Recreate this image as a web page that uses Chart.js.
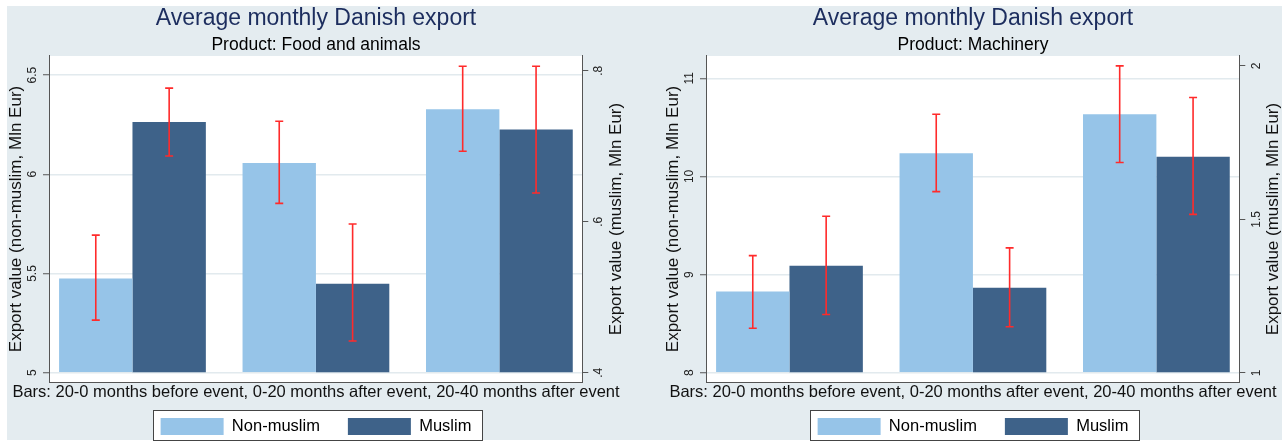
<!DOCTYPE html>
<html>
<head>
<meta charset="utf-8">
<script src="https://cdn.jsdelivr.net/npm/chart.js@4.4.1/dist/chart.umd.min.js"></script>
<style>
  html, body { margin: 0; padding: 0; background: #fff; overflow: hidden; }
  #bg { position: absolute; left: 7px; top: 6px; width: 1275px; height: 434px; background: #e4ecf0; }
  canvas { position: absolute; top: 0; }
  #food { left: 0; }
  #mach { left: 660px; }
</style>
</head>
<body>
<div id="bg"></div>
<canvas id="food" width="632" height="445"></canvas>
<canvas id="mach" width="626" height="445"></canvas>
<script>
// periods shown as the three bar groups
const periods = ['20-0 months before event', '0-20 months after event', '20-40 months after event'];
const noteText = 'Bars: 20-0 months before event, 0-20 months after event, 20-40 months after event';

// Food and animals
const foodNonMuslim     = [5.475, 6.057, 6.328];
const foodNonMuslimLow  = [5.265, 5.853, 6.116];
const foodNonMuslimHigh = [5.693, 6.267, 6.544];
const foodMuslim        = [0.732, 0.518, 0.722];
const foodMuslimLow     = [0.687, 0.442, 0.638];
const foodMuslimHigh    = [0.777, 0.597, 0.806];
const foodLeftTicks       = [5, 5.5, 6, 6.5];
const foodLeftTickLabels  = ['5', '5.5', '6', '6.5'];
const foodRightTicks      = [0.4, 0.6, 0.8];
const foodRightTickLabels = ['.4', '.6', '.8'];

// Machinery
const machNonMuslim     = [8.826, 10.236, 10.634];
const machNonMuslimLow  = [8.452, 9.845, 10.141];
const machNonMuslimHigh = [9.193, 10.634, 11.126];
const machMuslim        = [1.349, 1.277, 1.704];
const machMuslimLow     = [1.190, 1.150, 1.516];
const machMuslimHigh    = [1.510, 1.407, 1.897];
const machLeftTicks       = [8, 9, 10, 11];
const machLeftTickLabels  = ['8', '9', '10', '11'];
const machRightTicks      = [1, 1.5, 2];
const machRightTickLabels = ['1', '1.5', '2'];

const FONT = "'Liberation Sans', Arial, Helvetica, sans-serif";
const lightBlue = '#96c4e8';
const darkBlue = '#3e6289';
const errRed = '#ff2b2b';
const gridColor = '#e2eaee';
const axisColor = '#555';

// white plot region, legend frame, error bars and the right axis title
const stataLook = {
  id: 'stataLook',
  beforeDraw(chart) {
    const { ctx, chartArea: a } = chart;
    ctx.save();
    ctx.fillStyle = '#fff';
    ctx.fillRect(a.left, a.top, a.right - a.left, a.bottom - a.top);
    const hb = chart.legend.legendHitBoxes;
    if (hb && hb.length) {
      const first = hb[0], last = hb[hb.length - 1];
      const x0 = Math.round(first.left - 8) + 0.5;
      const x1 = Math.round(last.left + last.width + 11) + 0.5;
      const y0 = Math.round(first.top - 8) + 0.5;
      const y1 = Math.round(first.top + first.height + 5) + 0.5;
      ctx.fillRect(x0, y0, x1 - x0, y1 - y0);
      ctx.strokeStyle = '#444';
      ctx.lineWidth = 1;
      ctx.strokeRect(x0, y0, x1 - x0, y1 - y0);
    }
    ctx.restore();
  },
  afterDatasetsDraw(chart) {
    const ctx = chart.ctx;
    ctx.save();
    ctx.strokeStyle = errRed;
    ctx.lineWidth = 1.6;
    chart.data.datasets.forEach((ds, i) => {
      const meta = chart.getDatasetMeta(i);
      const ys = chart.scales[meta.yAxisID];
      meta.data.forEach((bar, j) => {
        const lo = ys.getPixelForValue(ds.errLow[j]);
        const hi = ys.getPixelForValue(ds.errHigh[j]);
        ctx.beginPath();
        ctx.moveTo(bar.x, lo); ctx.lineTo(bar.x, hi);
        ctx.moveTo(bar.x - 4, lo); ctx.lineTo(bar.x + 4, lo);
        ctx.moveTo(bar.x - 4, hi); ctx.lineTo(bar.x + 4, hi);
        ctx.stroke();
      });
    });
    ctx.restore();
  },
  afterDraw(chart) {
    // Stata writes the right axis title bottom-to-top as well
    const s = chart.scales.y1;
    const ctx = chart.ctx;
    ctx.save();
    ctx.translate(s.left + chart.options.rightTitleOffset, (s.top + s.bottom) / 2);
    ctx.rotate(-Math.PI / 2);
    ctx.font = '17px ' + FONT;
    ctx.fillStyle = '#111';
    ctx.textAlign = 'center';
    ctx.textBaseline = 'middle';
    ctx.fillText(s.options.title.text, 0, 0);
    ctx.restore();
  }
};

function tickFont() { return { family: FONT, size: 12 }; }

function buildPanel(id, p) {
  return new Chart(document.getElementById(id), {
    type: 'bar',
    data: {
      datasets: [
        {
          label: 'Non-muslim',
          data: p.nonMuslim.map((v, i) => ({ x: i, y: v })),
          errLow: p.nonMuslimLow,
          errHigh: p.nonMuslimHigh,
          yAxisID: 'y',
          base: p.leftTicks[0],
          backgroundColor: lightBlue
        },
        {
          label: 'Muslim',
          data: p.muslim.map((v, i) => ({ x: i, y: v })),
          errLow: p.muslimLow,
          errHigh: p.muslimHigh,
          yAxisID: 'y1',
          base: p.rightTicks[0],
          backgroundColor: darkBlue
        }
      ]
    },
    plugins: [stataLook],
    options: {
      responsive: false,
      animation: false,
      devicePixelRatio: 1,
      rightTitleOffset: 33.7,
      layout: { padding: 0 },
      datasets: { bar: { categoryPercentage: 0.8, barPercentage: 1.0 } },
      scales: {
        x: {
          type: 'linear',
          min: -0.455,
          max: 2.452,
          offset: false,
          bounds: 'data',
          afterBuildTicks: s => { s.ticks = periods.map((_, i) => ({ value: i })); },
          afterFit: s => { s.height = 0; },
          ticks: { display: false },
          grid: { display: false, drawTicks: false, offset: false },
          border: { display: true, color: axisColor, width: 1 }
        },
        y: {
          position: 'left',
          min: p.leftMin,
          max: p.leftMax,
          bounds: 'data',
          afterBuildTicks: s => { s.ticks = p.leftTicks.map(v => ({ value: v })); },
          afterFit: s => { s.width = p.leftWidth; },
          ticks: {
            minRotation: 90, maxRotation: 90, crossAlign: 'center',
            padding: p.leftTickPad, font: tickFont(), color: '#222',
            callback: (v, i) => p.leftTickLabels[i]
          },
          grid: { color: gridColor, lineWidth: 1.5, tickColor: axisColor, tickWidth: 1, tickLength: 6 },
          border: { color: axisColor, width: 1 },
          title: {
            display: true, text: 'Export value (non-muslim, Mln Eur)', color: '#111',
            font: { family: FONT, size: 17 }, padding: { top: p.leftTitlePad, bottom: 0 }
          }
        },
        y1: {
          position: 'right',
          min: p.rightMin,
          max: p.rightMax,
          bounds: 'data',
          afterBuildTicks: s => { s.ticks = p.rightTicks.map(v => ({ value: v })); },
          afterFit: s => { s.width = p.rightWidth; },
          ticks: {
            minRotation: 90, maxRotation: 90, crossAlign: 'center',
            padding: p.rightTickPad, font: tickFont(), color: '#222',
            callback: (v, i) => p.rightTickLabels[i]
          },
          grid: { drawOnChartArea: false, tickColor: axisColor, tickWidth: 1, tickLength: 6 },
          border: { color: axisColor, width: 1 },
          title: { display: false, text: 'Export value (muslim, Mln Eur)' }
        }
      },
      plugins: {
        tooltip: { enabled: false },
        title: {
          display: true, text: 'Average monthly Danish export', color: '#1c2d5e',
          font: { family: FONT, size: 23, weight: 'normal' }, padding: { top: 5, bottom: 0 }
        },
        subtitle: {
          display: true, text: p.product, color: '#000',
          font: { family: FONT, size: 17.5 }, padding: { top: 2, bottom: 0.4 }
        },
        legend: {
          position: 'bottom',
          align: 'center',
          title: {
            display: true, text: noteText, color: '#111', position: 'center',
            font: { family: FONT, size: 16.5 }, padding: { top: 2.25, bottom: -14.05 }
          },
          labels: {
            boxWidth: 63, boxHeight: 17, padding: 28, color: '#000',
            font: { family: FONT, size: 16.5 }
          }
        }
      }
    }
  });
}

buildPanel('food', {
  product: 'Product: Food and animals',
  nonMuslim: foodNonMuslim, nonMuslimLow: foodNonMuslimLow, nonMuslimHigh: foodNonMuslimHigh,
  muslim: foodMuslim, muslimLow: foodMuslimLow, muslimHigh: foodMuslimHigh,
  leftTicks: foodLeftTicks, leftTickLabels: foodLeftTickLabels,
  rightTicks: foodRightTicks, rightTickLabels: foodRightTickLabels,
  leftMin: 4.953, leftMax: 6.596, rightMin: 0.3877, rightMax: 0.8195,
  leftWidth: 49, rightWidth: 49.7, leftTickPad: 1.5, rightTickPad: 5.7, leftTitlePad: 5.8
});

buildPanel('mach', {
  product: 'Product: Machinery',
  nonMuslim: machNonMuslim, nonMuslimLow: machNonMuslimLow, nonMuslimHigh: machNonMuslimHigh,
  muslim: machMuslim, muslimLow: machMuslimLow, muslimHigh: machMuslimHigh,
  leftTicks: machLeftTicks, leftTickLabels: machLeftTickLabels,
  rightTicks: machRightTicks, rightTickLabels: machRightTickLabels,
  leftMin: 7.905, leftMax: 11.227, rightMin: 0.970, rightMax: 2.032,
  leftWidth: 46, rightWidth: 46.7, leftTickPad: 3.9, rightTickPad: 3.5, leftTitlePad: 2.8
});
</script>
</body>
</html>
